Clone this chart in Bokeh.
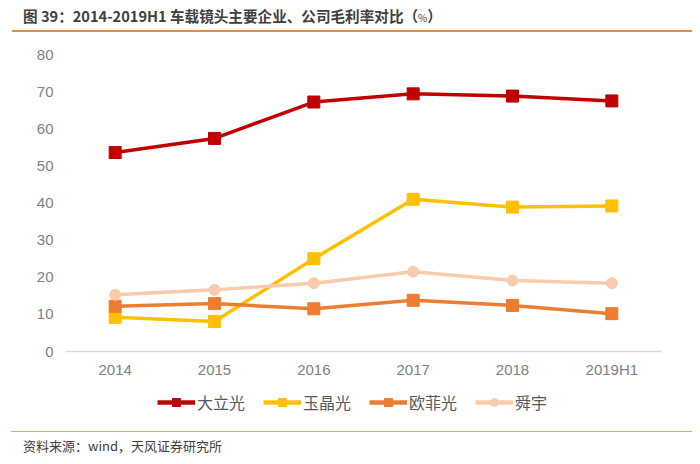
from bokeh.plotting import figure
from bokeh.models import Range1d, Legend, LegendItem, ColumnDataSource, Div
from bokeh.layouts import column
from bokeh.embed import file_html
from bokeh.resources import INLINE

categories = ["2014", "2015", "2016", "2017", "2018", "2019H1"]
dali = [53.6, 57.4, 67.2, 69.4, 68.8, 67.5]
yujing = [9.2, 8.1, 25.0, 41.0, 38.9, 39.2]
oufei = [12.2, 12.9, 11.5, 13.8, 12.4, 10.2]
shunyu = [15.3, 16.6, 18.4, 21.5, 19.1, 18.4]
names = ["大立光", "玉晶光", "欧菲光", "舜宇"]
colors = ["#C00000", "#FFC000", "#ED7D31", "#F8CBAD"]
markers = ["square", "square", "square", "circle"]
y_ticks = [0, 10, 20, 30, 40, 50, 60, 70, 80]

title_main = "图 39：2014-2019H1 车载镜头主要企业、公司毛利率对比（"
title_unit = "%"
title_end = "）"
source_text = "资料来源：wind，天风证券研究所"

CJK = "Noto Sans CJK SC"
W = 700
LEFT, RIGHT = 65, 39

# ---- header
header = Div(
    width=W, height=40, margin=0,
    text=('<div style="margin-left:12px;width:680px;height:32px;box-sizing:border-box;'
          'padding-left:11px;padding-top:4px;border-bottom:2px solid #F0883A;'
          "font-family:'Noto Sans CJK SC';font-size:14.6px;font-weight:bold;color:#404040;"
          'line-height:24px;white-space:nowrap;">' + title_main
          + '<span style="font-size:10px;font-weight:normal;">' + title_unit + '</span>'
          + title_end + '</div>'),
)

# ---- main chart
p = figure(width=W, height=340, x_range=categories, y_range=Range1d(0, 80),
           output_backend="svg", toolbar_location=None,
           min_border_left=LEFT, min_border_right=RIGHT, min_border_top=14, min_border_bottom=28)
p.outline_line_color = None
p.xgrid.grid_line_color = None
p.ygrid.grid_line_color = None
p.background_fill_color = "white"
p.border_fill_color = "white"

p.yaxis.ticker = y_ticks
p.yaxis.axis_line_color = None
p.yaxis.major_tick_line_color = None
p.yaxis.minor_tick_line_color = None
p.yaxis.major_tick_out = 0
p.yaxis.minor_tick_out = 0
p.yaxis.major_label_standoff = 12
p.xaxis.axis_line_color = "#D9D9D9"
p.xaxis.axis_line_width = 1.5
p.xaxis.major_tick_line_color = None
p.xaxis.minor_tick_line_color = None
p.xaxis.major_tick_out = 0
p.xaxis.minor_tick_out = 0
p.xaxis.major_label_standoff = 9
for ax in (p.xaxis, p.yaxis):
    ax.major_label_text_font = "Liberation Sans"
    ax.major_label_text_font_size = "15px"
    ax.major_label_text_color = "#7F7F7F"

all_series = [dali, yujing, oufei, shunyu]
for vals, color, marker in zip(all_series, colors, markers):
    size = 12 if marker == "square" else 11
    p.line(categories, vals, line_color=color, line_width=3.5)
    p.scatter(categories, vals, marker=marker, size=size, fill_color=color, line_color=color)

# ---- legend strip
leg = figure(width=W, height=44, x_range=Range1d(0, 1), y_range=Range1d(0, 1),
             output_backend="svg", toolbar_location=None,
             min_border_left=LEFT, min_border_right=RIGHT, min_border_top=0, min_border_bottom=0)
leg.xaxis.visible = False
leg.yaxis.visible = False
leg.grid.visible = False
leg.outline_line_color = None
leg.background_fill_color = "white"
leg.border_fill_color = "white"
offscreen = ColumnDataSource(data=dict(x=[-100.0], y=[-100.0]))
items = []
for name, color, marker in zip(names, colors, markers):
    size = 12 if marker == "square" else 11
    r1 = leg.line("x", "y", source=offscreen, line_color=color, line_width=4.5)
    r2 = leg.scatter("x", "y", source=offscreen, marker=marker, size=size,
                     fill_color=color, line_color=color)
    items.append(LegendItem(label=name, renderers=[r1, r2]))
legend = Legend(items=items, orientation="horizontal", location=(87, 5),
                glyph_width=38, glyph_height=20, label_height=20, label_standoff=2, spacing=18,
                padding=5, margin=0, border_line_alpha=0, background_fill_alpha=0,
                label_text_font=CJK, label_text_font_size="16px", label_text_color="#595959")
leg.add_layout(legend, "center")

# ---- footer
footer = Div(
    width=W, height=40, margin=0,
    text=('<div style="margin-left:11px;margin-top:7px;width:681px;box-sizing:border-box;'
          'border-top:1.5px solid #F2A36A;padding-left:12px;padding-top:5px;'
          "font-family:'Noto Sans CJK SC';font-size:13px;color:#404040;"
          'line-height:18px;white-space:nowrap;">' + source_text + '</div>'),
)

layout = column(header, p, leg, footer, spacing=0)
open("out.html", "w").write(file_html(layout, INLINE))
